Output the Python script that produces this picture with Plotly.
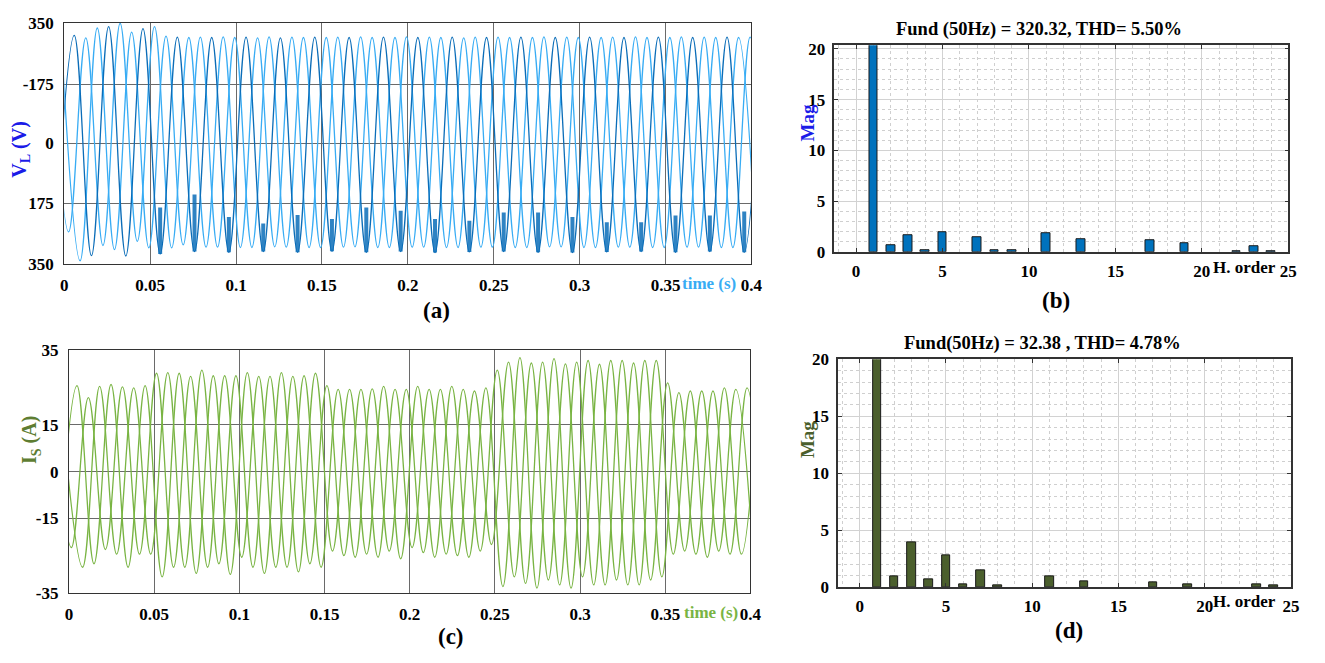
import numpy as np
import plotly.graph_objects as go

W, H = 1325, 663

# ---------------- DATA ----------------
# (a) Load voltage: extrema (peak / trough) values of each phase, one per half cycle
T_HALF = 0.01  # half period of 50 Hz
va_dark_t0, va_l1_t0, va_l2_t0 = -0.0042, -0.0075, -0.0008
va_dark = [-200, 318, -330, 344, -331, 338, -325, 313, -318, 312, -320, 313, -318, 311,
           -320, 313, -317, 312, -320, 313, -318, 312, -321, 313, -319, 312, -318, 313,
           -320, 312, -321, 313, -319, 312, -318, 313, -320, 312, -318, 313, -320, 312]
va_light1 = [300, -260, 311, -300, 354, -288, 344, -307, 312, -305, 314, -306, 311, -304,
             313, -306, 312, -305, 314, -306, 312, -305, 313, -306, 311, -305, 313, -306,
             312, -304, 313, -306, 312, -305, 314, -306, 312, -305, 313, -306, 312, -305]
va_light2 = [225, -345, 340, -312, 328, -307, 316, -298, 313, -305, 312, -306, 314, -305,
             312, -306, 313, -304, 312, -306, 314, -305, 312, -306, 313, -305, 312, -306,
             314, -304, 312, -306, 313, -305, 312, -306, 314, -305, 312, -306, 313, -305]
# top of the switching ripple seen on each trough of the dark phase
va_dark_ripple_top = [-330, -331, -188, -150, -216, -235, -210, -222, -188, -198,
                      -222, -227, -203, -203, -216, -232, -232, -212, -212, -200]

# (c) Source current: extrema of each phase
ic_a_t0, ic_b_t0, ic_c_t0 = -0.0053, -0.0086, -0.002
ic_a = [-20, 27.6, -29.6, 28, -30.7, 27.6, -33.8, 31.6, -32.7, 30.8, -33, 31.8, -32.7, 31.8,
        -32.2, 31.6, -25.5, 26.4, -26.5, 27.4, -28, 27.4, -27.5, 27.4, -27.5, 26.9, -36.9, 36.6,
        -37.4, 36.3, -37.4, 35.7, -36.4, 35.7, -36.4, 35.7, -26.5, 25.9, -27.5, 26.9, -26.5, 27]
ic_b = [24, -24.4, 23.8, -25, 27.2, -26.5, 31.6, -30.7, 30.6, -30.7, 30.8, -27.5, 30.6, -30.7,
        30.6, -29.6, 27.6, -27, 26.4, -27.5, 26.4, -24.4, 26.4, -26.5, 26.4, -25.5, 32.6, -33.8,
        34.9, -34.8, 34.6, -33.8, 34.5, -34.8, 34.9, -34.8, 28.5, -25.5, 25.9, -25.5, 26.4, -25.5]
ic_c = [7, -30.7, 27.4, -26.5, 26.9, -26.5, 31.8, -30.7, 32.6, -29.6, 30.8, -30.7, 30.6, -30.7,
        30.8, -30.7, 26.4, -27.5, 26.6, -25.5, 26.4, -26, 26.4, -27, 25.9, -23.4, 35.2, -35.9,
        35.2, -36.4, 35.2, -36.4, 35.7, -36.4, 35.7, -33.8, 25.4, -26.5, 25.9, -26.5, 26.9, -26]

# (b), (d) harmonic spectra (% of fundamental), orders 1..24 (None = no bar)
h_order = list(range(1, 25))
mag_v = [100, 0.65, 1.66, 0.15, 1.94, None, 1.43, 0.15, 0.15, None, 1.82, None, 1.27, None,
         None, None, 1.18, None, 0.89, None, None, 0.1, 0.51, 0.1]
mag_i = [100, 0.97, 3.95, 0.71, 2.82, 0.26, 1.45, 0.14, None, None, 0.97, None, 0.51, None,
         None, None, 0.4, None, 0.26, None, None, None, 0.28, 0.14]

time_ticks = [0, 0.05, 0.1, 0.15, 0.2, 0.25, 0.3, 0.35, 0.4]
time_ticktext = ["0", "0.05", "0.1", "0.15", "0.2", "0.25", "0.3", "0.35", "0.4"]
va_tickvals = [355, 175, 0, -175, -355]
va_ticktext = ["350", "-175", "0", "175", "350"]
ic_tickvals = [39, 15, 0, -15, -39]
ic_ticktext = ["35", "15", "0", "-15", "-35"]

# ---------------- STYLE ----------------
SERIF = "Liberation Serif"
LIGHT_BLUE = "#38acf4"
DARK_BLUE = "#0b6db8"
GREEN = "#79b443"
BAR_BLUE = "#0072bd"
BAR_GREEN = "#4b5f2d"


def ext_times(t0, n):
    return t0 + T_HALF * np.arange(n)


def px_x(x):
    return x / W


def px_y(y):
    return 1 - y / H


fig = go.Figure()

wave_line = dict(shape="spline", smoothing=1.1, width=1.3)

# (a)
for t0, vals, col in [(va_l1_t0, va_light1, LIGHT_BLUE), (va_l2_t0, va_light2, LIGHT_BLUE),
                      (va_dark_t0, va_dark, DARK_BLUE)]:
    fig.add_trace(go.Scatter(x=ext_times(t0, len(vals)), y=vals, mode="lines",
                             line=dict(color=col, **wave_line), xaxis="x", yaxis="y",
                             hoverinfo="skip"))
dark_t = ext_times(va_dark_t0, len(va_dark))
trough_idx = [j for j in range(len(va_dark)) if va_dark[j] < 0][1:]
trough_t = [dark_t[j] for j in trough_idx]
trough_v = [va_dark[j] for j in trough_idx]
ripple = [max(top - v, 0) for top, v in zip(va_dark_ripple_top, trough_v)]
fig.add_trace(go.Scatter(x=trough_t, y=trough_v, mode="markers", marker=dict(size=1, opacity=0),
                         error_y=dict(type="data", symmetric=False, array=ripple,
                                      arrayminus=[0] * len(ripple), color="rgba(11,109,184,0.85)",
                                      thickness=4, width=0),
                         xaxis="x", yaxis="y", hoverinfo="skip"))

# (c)
for t0, vals in [(ic_a_t0, ic_a), (ic_b_t0, ic_b), (ic_c_t0, ic_c)]:
    fig.add_trace(go.Scatter(x=ext_times(t0, len(vals)), y=vals, mode="lines",
                             line=dict(color=GREEN, **wave_line), xaxis="x3", yaxis="y3",
                             hoverinfo="skip"))

# (b), (d)
fig.add_trace(go.Bar(x=h_order, y=mag_v, width=0.5, xaxis="x2", yaxis="y2",
                     marker=dict(color=BAR_BLUE, line=dict(color="#1a1a1a", width=1))))
fig.add_trace(go.Bar(x=h_order, y=mag_i, width=0.5, xaxis="x4", yaxis="y4",
                     marker=dict(color=BAR_GREEN, line=dict(color="#1a1a1a", width=1))))

tickfont = dict(family=SERIF, size=17, color="black", weight="bold")


def wave_axes(xdom, ydom, yr, yvals, ytext):
    xa = dict(domain=xdom, range=[0, 0.4], tickvals=time_ticks, ticktext=time_ticktext,
              showgrid=True, gridcolor="#6a6a6a", gridwidth=1, zeroline=False,
              showline=True, linecolor="#333", linewidth=1.2, mirror=True, ticks="",
              tickfont=tickfont, ticklabelstandoff=5)
    ya = dict(domain=ydom, range=yr, tickvals=yvals, ticktext=ytext,
              showgrid=True, gridcolor="#6a6a6a", gridwidth=1, zeroline=False,
              showline=True, linecolor="#333", linewidth=1.2, mirror=True, ticks="",
              tickfont=tickfont, ticklabelstandoff=6)
    return xa, ya


def spec_axes(xdom, ydom, yr):
    xa = dict(domain=xdom, range=[-1.25, 25], tick0=0, dtick=5,
              showgrid=True, gridcolor="#d2d2d2", gridwidth=1, zeroline=False,
              showline=True, linecolor="#333", linewidth=1.5, mirror="ticks",
              ticks="inside", ticklen=4, tickcolor="#333",
              minor=dict(dtick=1, showgrid=True, gridcolor="#cfcfcf", griddash="dot", ticks=""),
              tickfont=tickfont, ticklabelstandoff=3)
    ya = dict(domain=ydom, range=yr, tick0=0, dtick=5,
              showgrid=True, gridcolor="#d2d2d2", gridwidth=1, zeroline=False,
              showline=True, linecolor="#333", linewidth=1.5, mirror="ticks",
              ticks="inside", ticklen=4, tickcolor="#333",
              minor=dict(dtick=1, showgrid=True, gridcolor="#cfcfcf", griddash="dot", ticks=""),
              tickfont=tickfont, ticklabelstandoff=4)
    return xa, ya


xa1, ya1 = wave_axes([px_x(61), px_x(756)], [px_y(262.7), px_y(14.3)], [-355, 355],
                     va_tickvals, va_ticktext)
xa3, ya3 = wave_axes([px_x(65.7), px_x(755)], [px_y(601.3), px_y(351.3)], [-39, 39],
                     ic_tickvals, ic_ticktext)
xa2, ya2 = spec_axes([px_x(840), px_x(1299)], [px_y(250), px_y(37.3)], [0, 20.35])
xa4, ya4 = spec_axes([px_x(843.7), px_x(1301.7)], [px_y(595.3), px_y(360.7)], [0, 20])

xa1.update(anchor="y"); ya1.update(anchor="x")
xa2.update(anchor="y2"); ya2.update(anchor="x2")
xa3.update(anchor="y3"); ya3.update(anchor="x3")
xa4.update(anchor="y4"); ya4.update(anchor="x4")


def ann(text, x, y, size, color="black", angle=0):
    return dict(text="<b>" + text + "</b>", x=px_x(x), y=px_y(y), xref="paper", yref="paper",
                showarrow=False, xanchor="center", yanchor="middle", textangle=angle,
                font=dict(family=SERIF, size=size, color=color))


annotations = [
    ann("V<sub>L</sub> (V)", 17, 144, 20, "#1b1be8", -90),
    ann("time (s)", 713, 283, 17, LIGHT_BLUE),
    ann("(a)", 437, 310, 23),
    ann("Fund (50Hz) = 320.32, THD= 5.50%", 1047, 21, 18.5),
    ann("Mag", 813, 117, 19, "#1b1be8", -90),
    ann("H. order", 1255, 266, 17),
    ann("(b)", 1064, 300, 23),
    ann("I<sub>S</sub> (A)", 27, 444, 20, "#5e7d32", -90),
    ann("time (s)", 715, 621, 17, GREEN),
    ann("(c)", 452, 646, 23),
    ann("Fund(50Hz) = 32.38 , THD= 4.78%", 1050, 344, 18.5),
    ann("Mag", 813, 443, 19, BAR_GREEN, -90),
    ann("H. order", 1255, 610, 17),
    ann("(d)", 1077, 640, 23),
]

fig.update_layout(
    width=W, height=H, autosize=False,
    margin=dict(l=0, r=0, t=0, b=0),
    paper_bgcolor="white", plot_bgcolor="white",
    showlegend=False, bargap=0,
    xaxis=xa1, yaxis=ya1, xaxis2=xa2, yaxis2=ya2,
    xaxis3=xa3, yaxis3=ya3, xaxis4=xa4, yaxis4=ya4,
    annotations=annotations,
)

fig.write_html("out.html")
